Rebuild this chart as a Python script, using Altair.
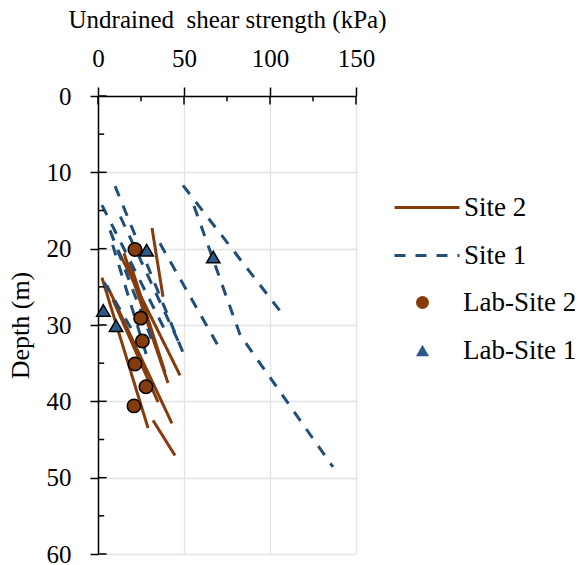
import altair as alt
import pandas as pd

# ---------------- data ----------------
# each profile: list of (undrained shear strength kPa, depth m) vertices
site2_lines = [
    [(31.4, 17.3), (37.8, 26.3)],
    [(11.6, 20.2), (47.7, 36.6)],
    [(15.1, 20.6), (40.7, 37.6)],
    [(18.6, 21.8), (39.0, 36.2)],
    [(2.3, 23.8), (29.1, 43.5)],
    [(5.2, 24.8), (43.0, 42.9)],
    [(8.7, 26.7), (34.9, 40.1)],
    [(32.0, 42.5), (44.8, 47.1)],
]
site1_lines = [
    [(49.4, 11.7), (108.7, 29.0)],
    [(55.8, 14.4), (82.6, 31.3), (136.6, 48.6)],
    [(36.0, 19.3), (70.3, 32.9)],
    [(9.9, 11.8), (51.2, 34.6)],
    [(2.3, 14.3), (39.0, 30.7)],
    [(7.0, 17.6), (31.4, 32.0)],
    [(3.5, 24.4), (21.5, 31.3)],
    [(13.0, 15.8), (48.5, 33.0)],
    [(8.5, 19.5), (28.0, 33.8)],
]
lab2_su = [21.5, 24.8, 25.8, 21.5, 27.9, 20.9]
lab2_depth = [20.1, 29.1, 32.1, 35.1, 38.1, 40.6]
lab1_su = [28.3, 3.1, 10.5, 67.0]
lab1_depth = [20.2, 28.1, 30.1, 21.1]

line_series = ["Site 2", "Site 1"]
point_series = ["Lab-Site 2", "Lab-Site 1"]
x_major = [0, 50, 100, 150]
x_minor = [25, 75, 125]
y_major = [0, 10, 20, 30, 40, 50, 60]
y_minor = [5, 15, 25, 35, 45, 55]

BROWN = "#843C0C"
BLUE = "#1F4E79"
TRI = "#2E5A87"
FONT = "Liberation Serif"

rows = []
for name, group in (("Site 2", site2_lines), ("Site 1", site1_lines)):
    for i, prof in enumerate(group):
        for k, (v, d) in enumerate(prof):
            rows.append({"series": name, "id": f"{name}-{i}", "order": k, "v": v, "d": d})
lines_df = pd.DataFrame(rows)

pts_df = pd.DataFrame(
    [{"series": "Lab-Site 2", "v": v, "d": d} for v, d in zip(lab2_su, lab2_depth)]
    + [{"series": "Lab-Site 1", "v": v, "d": d} for v, d in zip(lab1_su, lab1_depth)]
)

xs = alt.Scale(domain=[0, 150], nice=False)
ys = alt.Scale(domain=[0, 60], reverse=True, nice=False)

xaxis = alt.Axis(
    orient="top", values=x_major, tickSize=9, tickWidth=1.5, tickColor="black",
    domainColor="black", domainWidth=1.5, labelFont=FONT, labelFontSize=25,
    labelColor="black", labelPadding=16, labelFlush=False,
    title="Undrained\u00a0 shear strength (kPa)", titleFont=FONT, titleFontSize=25,
    titleFontWeight="normal", titleColor="black", titlePadding=14,
    grid=True, gridColor="#e3e3e3", gridWidth=1.3,
)
yaxis = alt.Axis(
    values=y_major, tickSize=8, tickWidth=1.5, tickColor="black",
    domainColor="black", domainWidth=1.5, labelFont=FONT, labelFontSize=25,
    labelColor="black", labelPadding=19, labelFlush=False,
    title="Depth (m)", titleFont=FONT, titleFontSize=26,
    titleFontWeight="normal", titleColor="black", titlePadding=13,
    grid=True, gridColor="#e3e3e3", gridWidth=1.3,
)

line_legend = alt.Legend(
    title=None, orient="none", legendX=295, legendY=98, padding=0,
    symbolType="stroke", symbolSize=4225, symbolStrokeWidth=3,
    labelFont=FONT, labelFontSize=27, labelColor="black", labelOffset=3,
    clipHeight=27, rowPadding=20,
)
point_legend = alt.Legend(
    title=None, orient="none", legendX=311, legendY=193, padding=0,
    symbolSize=169, symbolStrokeColor="black", symbolStrokeWidth=1.3,
    labelFont=FONT, labelFontSize=27, labelColor="black", labelOffset=27,
    clipHeight=27, rowPadding=20,
)

lines = alt.Chart(lines_df).mark_line(strokeWidth=3, strokeCap="butt").encode(
    x=alt.X("v:Q", scale=xs, axis=xaxis),
    y=alt.Y("d:Q", scale=ys, axis=yaxis),
    detail="id:N",
    order="order:Q",
    color=alt.Color("series:N", scale=alt.Scale(domain=line_series, range=[BROWN, BLUE]),
                    legend=line_legend),
    strokeDash=alt.StrokeDash("series:N",
                              scale=alt.Scale(domain=line_series, range=[[1, 0], [11, 10]]),
                              legend=line_legend),
)

points = alt.Chart(pts_df).mark_point(filled=True, stroke="black", strokeWidth=1.5, size=180, opacity=1).encode(
    x=alt.X("v:Q", scale=xs, axis=xaxis),
    y=alt.Y("d:Q", scale=ys, axis=yaxis),
    fill=alt.Fill("series:N", scale=alt.Scale(domain=point_series, range=[BROWN, TRI]),
                  legend=point_legend),
    shape=alt.Shape("series:N", scale=alt.Scale(domain=point_series, range=["circle", "triangle-up"]),
                    legend=point_legend),
)

def xticks(vals, length):
    return alt.Chart(pd.DataFrame({"v": vals})).mark_rule(color="black", strokeWidth=1.5).encode(
        x=alt.X("v:Q", scale=xs, axis=xaxis), y=alt.datum(0), y2=alt.datum(length))

def yticks(vals, length):
    return alt.Chart(pd.DataFrame({"d": vals})).mark_rule(color="black", strokeWidth=1.5).encode(
        y=alt.Y("d:Q", scale=ys, axis=yaxis), x=alt.datum(0), x2=alt.datum(length))

chart = alt.layer(
    lines, points,
    xticks(x_major, 1.1), xticks(x_minor, 0.7),
    yticks(y_major, 5.0), yticks(y_minor, 3.6),
).properties(
    width=258, height=458,
    autosize=alt.AutoSizeParams(type="none"),
    padding={"left": 98, "top": 96, "right": 231, "bottom": 11},
    background="white",
).configure_view(strokeWidth=0)

chart.save("out.html", embed_options={"renderer": "svg", "actions": False})
